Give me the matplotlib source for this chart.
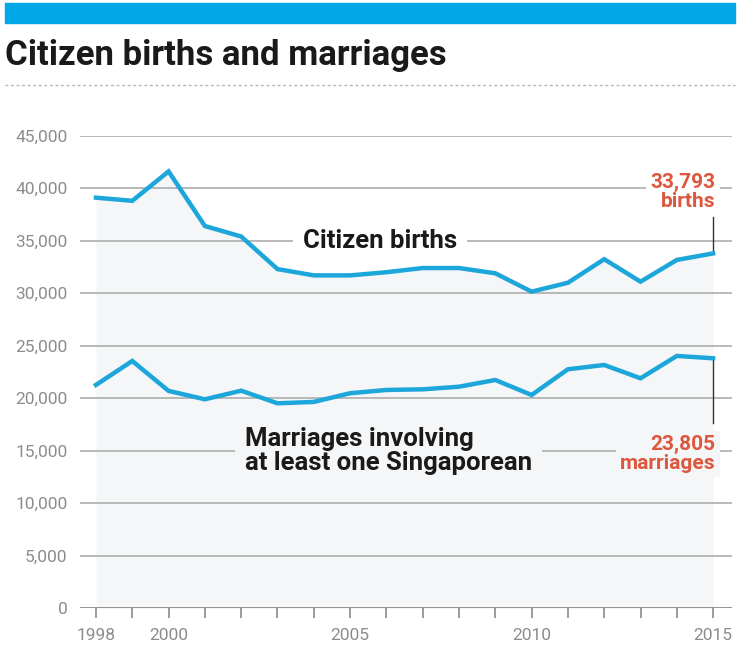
import matplotlib.pyplot as plt
from matplotlib.lines import Line2D
from matplotlib.patches import Rectangle

years = list(range(1998, 2016))
births = [39100, 38800, 41600, 36400, 35400, 32300, 31700, 31700, 32000,
          32400, 32400, 31900, 30150, 31000, 33240, 31100, 33170, 33793]
marriages = [21270, 23550, 20700, 19900, 20720, 19520, 19650, 20480, 20790,
             20850, 21100, 21740, 20310, 22760, 23170, 21900, 24030, 23805]
yticks = [0, 5000, 10000, 15000, 20000, 25000, 30000, 35000, 40000, 45000]
xlabel_years = [1998, 2000, 2005, 2010, 2015]

BLUE = '#1ca6da'
RED = '#dc573d'
FILL = '#f4f6f8'
GRID = '#adadad'
FONT = 'Roboto'

fig = plt.figure(figsize=(7.43, 6.6), dpi=100)

# top banner, title and dotted rule
fig.patches.append(Rectangle((5 / 743, 1 - 23 / 660), 730 / 743, 20 / 660,
                             transform=fig.transFigure, color='#00a8e8'))
fig.text(5 / 743, 1 - 55 / 660, 'Citizen births and marriages', fontsize=25,
         fontweight='bold', family=FONT, color='#1a1a1a', va='center')
fig.lines.append(Line2D([5 / 743, 735 / 743], [1 - 85 / 660] * 2,
                        transform=fig.transFigure, color='#b5b5b5', lw=1,
                        ls=(0, (2, 2))))

ax = fig.add_axes([80 / 743, 1 - 608.3 / 660, 652 / 743, 472.6 / 660])
ax.set_xlim(1997.56, 2015.52)
ax.set_ylim(0, 45000)

for v in yticks[1:]:
    ax.axhline(v, color=GRID, lw=1.2, zorder=1)
ax.axhline(0, color='#8a8a8a', lw=2, zorder=3)

ax.fill_between(years, births, 0, color=FILL, zorder=0, lw=0)
ax.plot(years, births, color=BLUE, lw=3.2, zorder=4, solid_joinstyle='miter')
ax.plot(years, marriages, color=BLUE, lw=3.2, zorder=4, solid_joinstyle='miter')

for s in ax.spines.values():
    s.set_visible(False)
ax.set_yticks(yticks)
ax.set_yticklabels([f'{v:,}' for v in yticks], family=FONT, fontsize=12.5,
                   color='#8c8c8c')
ax.tick_params(axis='y', length=0, pad=9)
ax.set_xticks(years)
ax.set_xticklabels([str(y) if y in xlabel_years else '' for y in years],
                   family=FONT, fontsize=12.5, color='#8c8c8c')
ax.tick_params(axis='x', length=7, width=1.2, color='#8a8a8a', pad=7)

# series labels
ax.text(2005.82, 35000, 'Citizen births', fontsize=18.5, fontweight='bold',
        family=FONT, color='#1a1a1a', ha='center', va='center', zorder=5,
        bbox=dict(facecolor='white', edgecolor='none', pad=7))
ax.text(2002.1, 15000, 'Marriages involving\nat least one Singaporean',
        fontsize=18.5, fontweight='bold', family=FONT, color='#1a1a1a',
        ha='left', va='center', zorder=5, linespacing=1.0,
        bbox=dict(facecolor=FILL, edgecolor='none', pad=7))

# end-value callouts
ax.plot([2015, 2015], [37300, births[-1]], color='#333333', lw=1, zorder=3)
ax.plot([2015, 2015], [marriages[-1], 17650], color='#333333', lw=1, zorder=3)
ax.text(2015.07, 39650, f'{births[-1]:,}\nbirths', fontsize=15,
        fontweight='bold', family=FONT, color=RED, ha='right',
        va='center', zorder=5, linespacing=1.0,
        bbox=dict(facecolor='white', edgecolor='none', pad=3))
ax.text(2015.07, 14700, f'{marriages[-1]:,}\nmarriages', fontsize=15,
        fontweight='bold', family=FONT, color=RED, ha='right',
        va='center', zorder=5, linespacing=1.0,
        bbox=dict(facecolor=FILL, edgecolor='none', pad=3))

fig.savefig('out.png', dpi=100)
